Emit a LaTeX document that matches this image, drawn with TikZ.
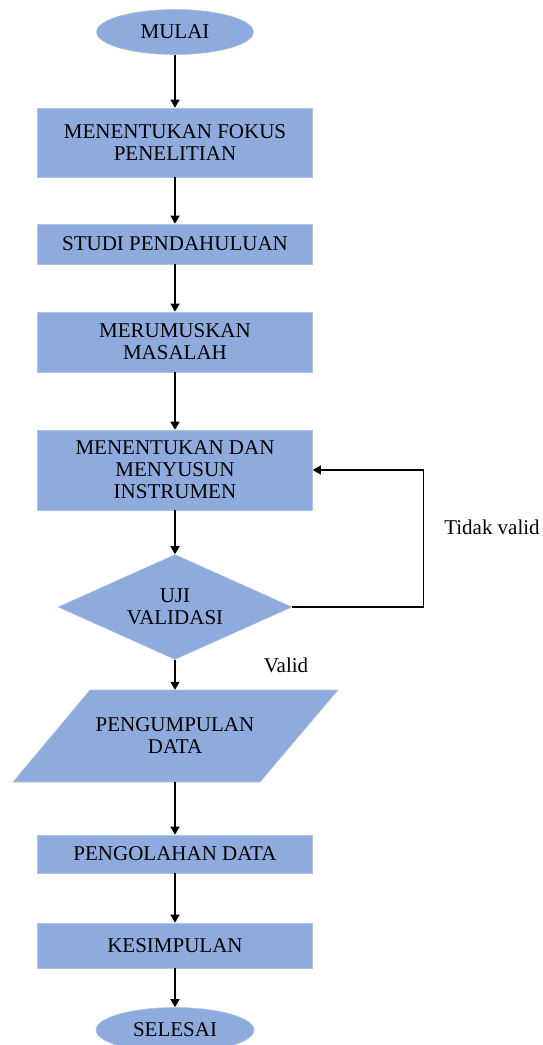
\documentclass[tikz,border=0pt]{standalone}
\usepackage{fontspec}
\setmainfont{Liberation Serif}
\usetikzlibrary{shapes.geometric,arrows.meta}
\definecolor{boxblue}{RGB}{143,170,220}
\definecolor{edgeblue}{RGB}{178,196,230}
\tikzset{
  base/.style={fill=boxblue, draw=edgeblue, line width=0.6pt, inner sep=0pt, align=center,
    font=\fontsize{21}{22}\selectfont},
  procbox/.style={base, rectangle, minimum width=275pt},
  termin/.style={base, ellipse, minimum width=157pt, minimum height=45pt},
  decis/.style={base, diamond, aspect=2.23, minimum width=234pt, minimum height=105pt},
  lbl/.style={font=\fontsize{21}{22}\selectfont, inner sep=0pt},
  arr/.style={line width=1.4pt, -{Triangle[width=9pt,length=8pt]}},
}
\begin{document}
\begin{tikzpicture}[x=1pt,y=-1pt]
\useasboundingbox (0,0) rectangle (542,1045);
\node[termin] (start) at (175,32) {MULAI};
\node[procbox, minimum height=69pt] (b1) at (175,142.5) {MENENTUKAN FOKUS\\PENELITIAN};
\node[procbox, minimum height=40pt] (b2) at (175,244) {STUDI PENDAHULUAN};
\node[procbox, minimum height=60pt] (b3) at (175,342) {MERUMUSKAN\\MASALAH};
\node[procbox, minimum height=80pt] (b4) at (175,470) {MENENTUKAN DAN\\MENYUSUN\\INSTRUMEN};
\node[decis] (dia) at (175,607) {UJI\\VALIDASI};
\fill[boxblue] (90,690) -- (338,690) -- (260,782) -- (13,782) -- cycle;
\draw[edgeblue, line width=0.6pt] (90,690) -- (338,690) -- (260,782) -- (13,782) -- cycle;
\node[lbl, align=center, minimum height=92pt] (data) at (175,736) {PENGUMPULAN\\DATA};
\node[procbox, minimum height=38pt] (b5) at (175,854) {PENGOLAHAN DATA};
\node[procbox, minimum height=45pt] (b6) at (175,945.5) {KESIMPULAN};
\node[termin, minimum width=158pt] (end) at (175,1030) {SELESAI};
\node[lbl] (tv) at (492,527) {Tidak valid};
\node[lbl] (vl) at (286,665) {Valid};
\draw[arr] (start) -- (b1);
\draw[arr] (b1) -- (b2);
\draw[arr] (b2) -- (b3);
\draw[arr] (b3) -- (b4);
\draw[arr] (b4) -- (dia);
\draw[arr] (dia) -- (data);
\draw[arr] (data) -- (b5);
\draw[arr] (b5) -- (b6);
\draw[arr] (b6) -- (end);
\draw[arr, line width=1.2pt] (dia.east) -- ++(131,0) |- (b4.east);
\end{tikzpicture}
\end{document}
